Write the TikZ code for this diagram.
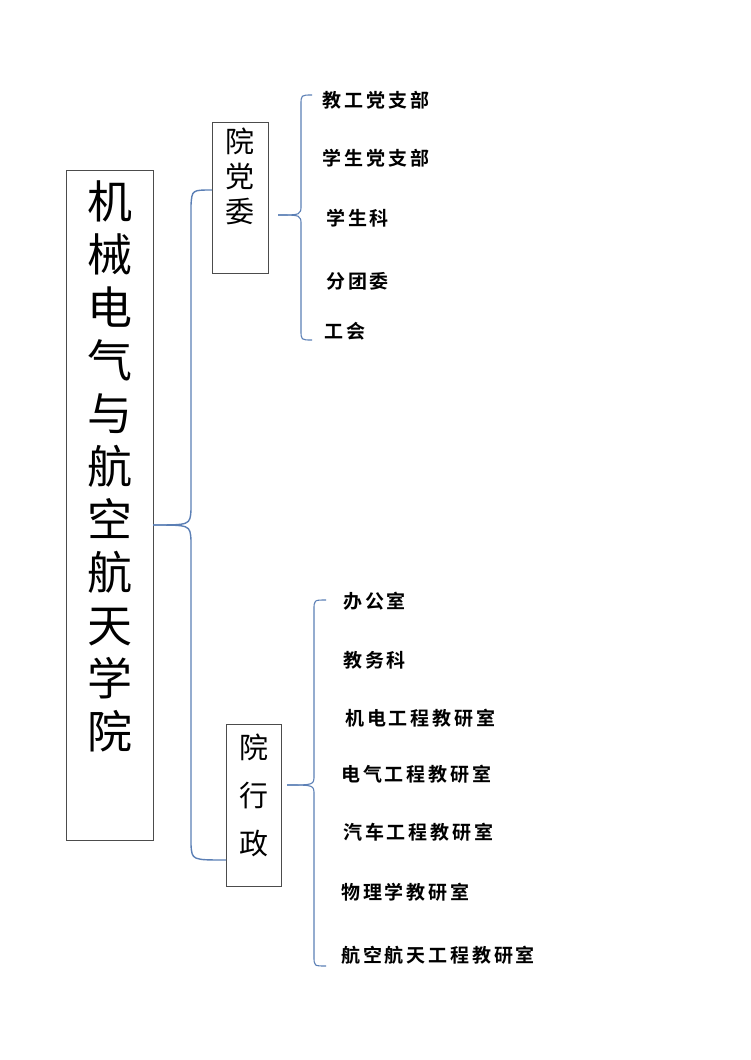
\documentclass[tikz,border=0pt]{standalone}
\usepackage{fontspec}
\newfontfamily\cjk{Noto Sans CJK SC}
\newfontfamily\cjkb{Noto Sans CJK SC Bold}[LetterSpace=15]
\definecolor{brc}{HTML}{5B7FB5}
\begin{document}
\begin{tikzpicture}[x=1pt,y=-1pt,
 box/.style={draw=black!70,line width=0.6pt},
 br/.style={draw=brc,line width=1.4pt},
 item/.style={anchor=west,font=\cjkb\fontsize{19}{19}\selectfont,inner sep=0}]
\useasboundingbox (0,0) rectangle (750,1060);
\draw[box] (66,170) rectangle (153,840);
\node[align=center,font=\cjk\fontsize{45}{53}\selectfont,anchor=north,inner sep=0] (main) at (109.5,180) {机\\械\\电\\气\\与\\航\\空\\航\\天\\学\\院};
\draw[box] (212,122) rectangle (268,273);
\node[align=center,font=\cjk\fontsize{29}{35}\selectfont,anchor=north,inner sep=0] (dw) at (240,128) {院\\党\\委};
\draw[box] (226,724) rectangle (281,886);
\node[align=center,font=\cjk\fontsize{29}{48}\selectfont,anchor=north,inner sep=0] (xz) at (253.5,734) {院\\行\\政};
\coordinate (m) at (153,525);
\draw[br] (212,190) .. controls (192,190) .. (191,205) -- (191,510) .. controls (190,525) .. (m);
\draw[br] (226,860) .. controls (192,860) .. (191,845) -- (191,540) .. controls (190,525) .. (m);
\draw[br,line width=1.1pt] (312,95) .. controls (301,95) .. (301,105) -- (301,205) .. controls (301,215) .. (278,215);
\draw[br,line width=1.1pt] (312,340) .. controls (301,340) .. (301,330) -- (301,225) .. controls (301,215) .. (278,215);
\draw[br,line width=1.1pt] (326,600) .. controls (314,600) .. (314,610) -- (314,775) .. controls (314,785) .. (287,785);
\draw[br,line width=1.1pt] (326,966) .. controls (314,966) .. (314,956) -- (314,795) .. controls (314,785) .. (287,785);
\node[item] (a1) at (322,100) {教\,工\,党\,支\,部};
\node[item] (a2) at (322,158) {学\,生\,党\,支\,部};
\node[item] (a3) at (326,218) {学生科};
\node[item] (a4) at (326,281) {分团委};
\node[item] (a5) at (324,331) {工会};
\node[item] (b1) at (343,601) {办公室};
\node[item] (b2) at (343,660) {教务科};
\node[item] (b3) at (345,718) {机电工程教研室};
\node[item] (b4) at (341,774) {电气工程教研室};
\node[item] (b5) at (343,832) {汽车工程教研室};
\node[item] (b6) at (341,892) {物理学教研室};
\node[item] (b7) at (341,955) {航空航天工程教研室};
\end{tikzpicture}
\end{document}
